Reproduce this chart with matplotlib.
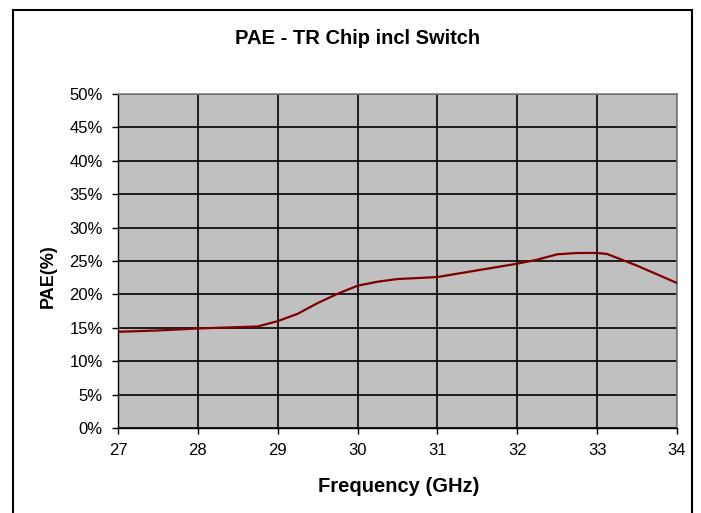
import matplotlib
matplotlib.use("Agg")
import matplotlib.pyplot as plt
from matplotlib.patches import Rectangle
from matplotlib.ticker import PercentFormatter

plt.rcParams["font.family"] = ["Liberation Sans", "DejaVu Sans"]

#data
freq_ghz = [27.0, 27.5, 28.0, 28.5, 28.75, 29.0, 29.25, 29.5, 29.75, 30.0, 30.25, 30.5,
            31.0, 31.5, 32.0, 32.25, 32.5, 32.75, 33.0, 33.125, 33.5, 34.0]
pae_pct = [14.4, 14.6, 14.9, 15.1, 15.2, 16.0, 17.1, 18.7, 20.1, 21.3, 21.9, 22.3,
           22.6, 23.6, 24.6, 25.2, 26.0, 26.2, 26.2, 26.05, 24.3, 21.7]
x_ticks = [27, 28, 29, 30, 31, 32, 33, 34]
y_ticks = list(range(0, 55, 5))

W, H = 701, 513
fig = plt.figure(figsize=(W / 100, H / 100), dpi=100)
ax = fig.add_axes([118 / W, 1 - 428 / H, (677 - 118) / W, (428 - 94) / H])

#outer chart frame (excel style), bottom edge runs off the image
fig.patches.append(Rectangle((13 / W, -0.02), (692 - 13) / W, 1 - 10 / H + 0.02,
                             transform=fig.transFigure, fill=False, edgecolor="black",
                             linewidth=1.5, clip_on=False))

ax.set_facecolor("#C0C0C0")
ax.plot(freq_ghz, pae_pct, color="#800000", linewidth=1.6, zorder=3)

ax.set_xlim(27, 34)
ax.set_ylim(0, 50)
ax.set_xticks(x_ticks)
ax.set_yticks(y_ticks)
ax.yaxis.set_major_formatter(PercentFormatter(decimals=0))
ax.grid(True, color="black", linewidth=1.2)
ax.set_axisbelow(True)

for side in ["top", "right"]:
    ax.spines[side].set_color("#808080")
    ax.spines[side].set_linewidth(1.2)
for side in ["left", "bottom"]:
    ax.spines[side].set_color("black")
    ax.spines[side].set_linewidth(1.0)

ax.tick_params(direction="out", length=4.5, width=1, labelsize=12)
ax.tick_params(axis="y", pad=6.5)
ax.tick_params(axis="x", pad=6)

#titles placed in pixel coords to match the reference
fig.text(358 / W, 1 - 39 / H, "PAE - TR Chip incl Switch", fontsize=14.5,
         fontweight="bold", ha="center", va="center")
fig.text(398.5 / W, 1 - 487 / H, "Frequency (GHz)", fontsize=14.5,
         fontweight="bold", ha="center", va="center")
fig.text(48 / W, 1 - 276 / H, "PAE(%)", fontsize=13, fontweight="bold",
         ha="center", va="center", rotation=90)

plt.savefig("out.png", dpi=100)
